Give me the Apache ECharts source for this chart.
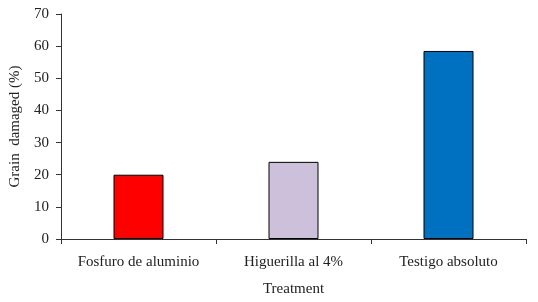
<!DOCTYPE html>
<html>
<head>
<meta charset="utf-8">
<script src="https://cdn.jsdelivr.net/npm/echarts@6/dist/echarts.min.js"></script>
<style>html,body{margin:0;padding:0;background:#fff}#c{width:538px;height:302px}</style>
</head>
<body>
<div id="c"></div>
<script>
const categories = ["Fosfuro de aluminio", "Higuerilla al 4%", "Testigo absoluto"];
const values = [20, 24, 58.5];
const barColors = ["#FF0000", "#CCC0DA", "#0070C0"];
const yTicks = [0, 10, 20, 30, 40, 50, 60, 70];

const font = "Liberation Serif";
const chart = echarts.init(document.getElementById('c'), null, {renderer: 'canvas'});
chart.setOption({
  animation: false,
  grid: {left: 61, right: 12, top: 14, bottom: 62},
  xAxis: {
    type: 'category',
    data: categories,
    name: 'Treatment',
    nameLocation: 'middle',
    nameGap: 43,
    nameTextStyle: {fontFamily: font, fontSize: 15, color: '#222'},
    axisLine: {lineStyle: {color: '#333', width: 1}},
    axisTick: {show: true, length: 5, interval: 0, lineStyle: {color: '#333'}},
    axisLabel: {fontFamily: font, fontSize: 15, color: '#222', margin: 16, interval: 0, hideOverlap: false}
  },
  yAxis: {
    type: 'value',
    min: yTicks[0], max: yTicks[yTicks.length - 1], interval: 10,
    name: 'Grain  damaged (%)',
    nameLocation: 'middle',
    nameGap: 38,
    nameTextStyle: {fontFamily: font, fontSize: 15, color: '#222'},
    axisLine: {show: true, lineStyle: {color: '#333', width: 1}},
    axisTick: {show: true, length: 5, lineStyle: {color: '#333'}},
    axisLabel: {fontFamily: font, fontSize: 15, color: '#222', margin: 12},
    splitLine: {show: false}
  },
  series: [{
    type: 'bar',
    barWidth: 50,
    data: values.map((v, i) => ({value: v, itemStyle: {color: barColors[i], borderColor: '#000', borderWidth: 1}}))
  }]
});
</script>
</body>
</html>
